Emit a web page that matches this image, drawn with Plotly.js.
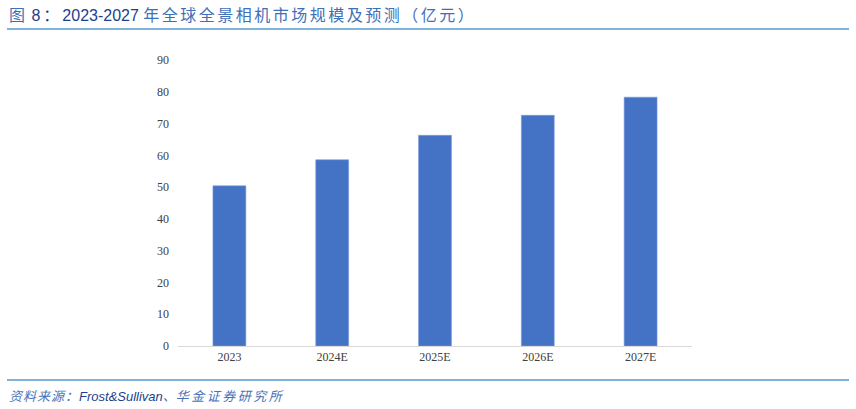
<!DOCTYPE html>
<html>
<head>
<meta charset="utf-8">
<script src="https://cdn.plot.ly/plotly-3.0.1.min.js"></script>
<style>
  html, body { margin: 0; padding: 0; background: #fff; }
  #plot { width: 856px; height: 409px; }
</style>
</head>
<body>
<div id="plot"></div>
<script>
// market size, 100 million yuan
const years = ['2023', '2024E', '2025E', '2026E', '2027E'];
const marketSize = [50.4, 58.6, 66.3, 72.6, 78.3];
const yTicks = [0, 10, 20, 30, 40, 50, 60, 70, 80, 90];

// plot area in pixels: x 178..692, y 60..346
const L = 178, R = 692, T = 60, B = 346;
const px = x => (x - L) / (R - L);
const py = y => (B - y) / (B - T);

const trace = {
    x: years,
    y: marketSize,
    type: 'bar',
    marker: { color: '#4472c4', line: { color: '#7b9be0', width: 0.6 } },
    hoverinfo: 'x+y'
};

const layout = {
    width: 856,
    height: 409,
    margin: { l: L, r: 856 - R, t: T, b: 409 - B },
    paper_bgcolor: '#ffffff',
    plot_bgcolor: '#ffffff',
    bargap: 0.68,
    showlegend: false,
    font: { family: '"Liberation Serif", "Times New Roman", serif', size: 12, color: '#404040' },
    xaxis: {
        type: 'category',
        showgrid: false,
        showline: true,
        linecolor: '#d9d9d9',
        linewidth: 1,
        ticks: '',
        tickfont: { family: '"Liberation Serif", serif', size: 12, color: '#404040' }
    },
    yaxis: {
        range: [0, 90],
        tickvals: yTicks,
        showgrid: false,
        zeroline: false,
        showline: false,
        ticks: '',
        ticklabelstandoff: 8,
        tickfont: { family: '"Liberation Serif", serif', size: 12, color: '#404040' }
    },
    shapes: [
        // line under the title
        { type: 'line', xref: 'paper', yref: 'paper', x0: px(7), x1: px(849), y0: py(29), y1: py(29),
          line: { color: '#7fb3dc', width: 2 } },
        // line above the source note
        { type: 'line', xref: 'paper', yref: 'paper', x0: px(7), x1: px(849), y0: py(380), y1: py(380),
          line: { color: '#7fb3dc', width: 2 } }
    ],
    annotations: [
        {
            xref: 'paper', yref: 'paper', x: px(7), y: py(15), xanchor: 'left', yanchor: 'middle',
            showarrow: false,
            text: '<span style="color:#3f6fb8;letter-spacing:1px">图 </span>' +
                  '<span style="color:#1b3f8f;letter-spacing:3px">8：</span>' +
                  '<span style="color:#1b3f8f">2023-2027 </span>' +
                  '<span style="color:#3f6fb8;letter-spacing:2.5px">年全球全景相机市场规模及预测（亿元）</span>',
            font: { family: '"Liberation Sans", "Noto Sans CJK SC", sans-serif', size: 16, color: '#3f6fb8' }
        },
        {
            xref: 'paper', yref: 'paper', x: px(7), y: py(396), xanchor: 'left', yanchor: 'middle',
            showarrow: false,
            text: '<i><span style="color:#4a72b8;letter-spacing:1px">资料来源：</span>' +
                  '<span style="color:#1b3f8f">Frost&amp;Sullivan</span>' +
                  '<span style="color:#4a72b8">、</span>' +
                  '<span style="color:#4a72b8;letter-spacing:2.5px">华金证券研究所</span></i>',
            font: { family: '"Liberation Sans", "Noto Sans CJK SC", sans-serif', size: 13, color: '#4a72b8' }
        }
    ]
};

Plotly.newPlot('plot', [trace], layout, { displayModeBar: false, staticPlot: true });
</script>
</body>
</html>
